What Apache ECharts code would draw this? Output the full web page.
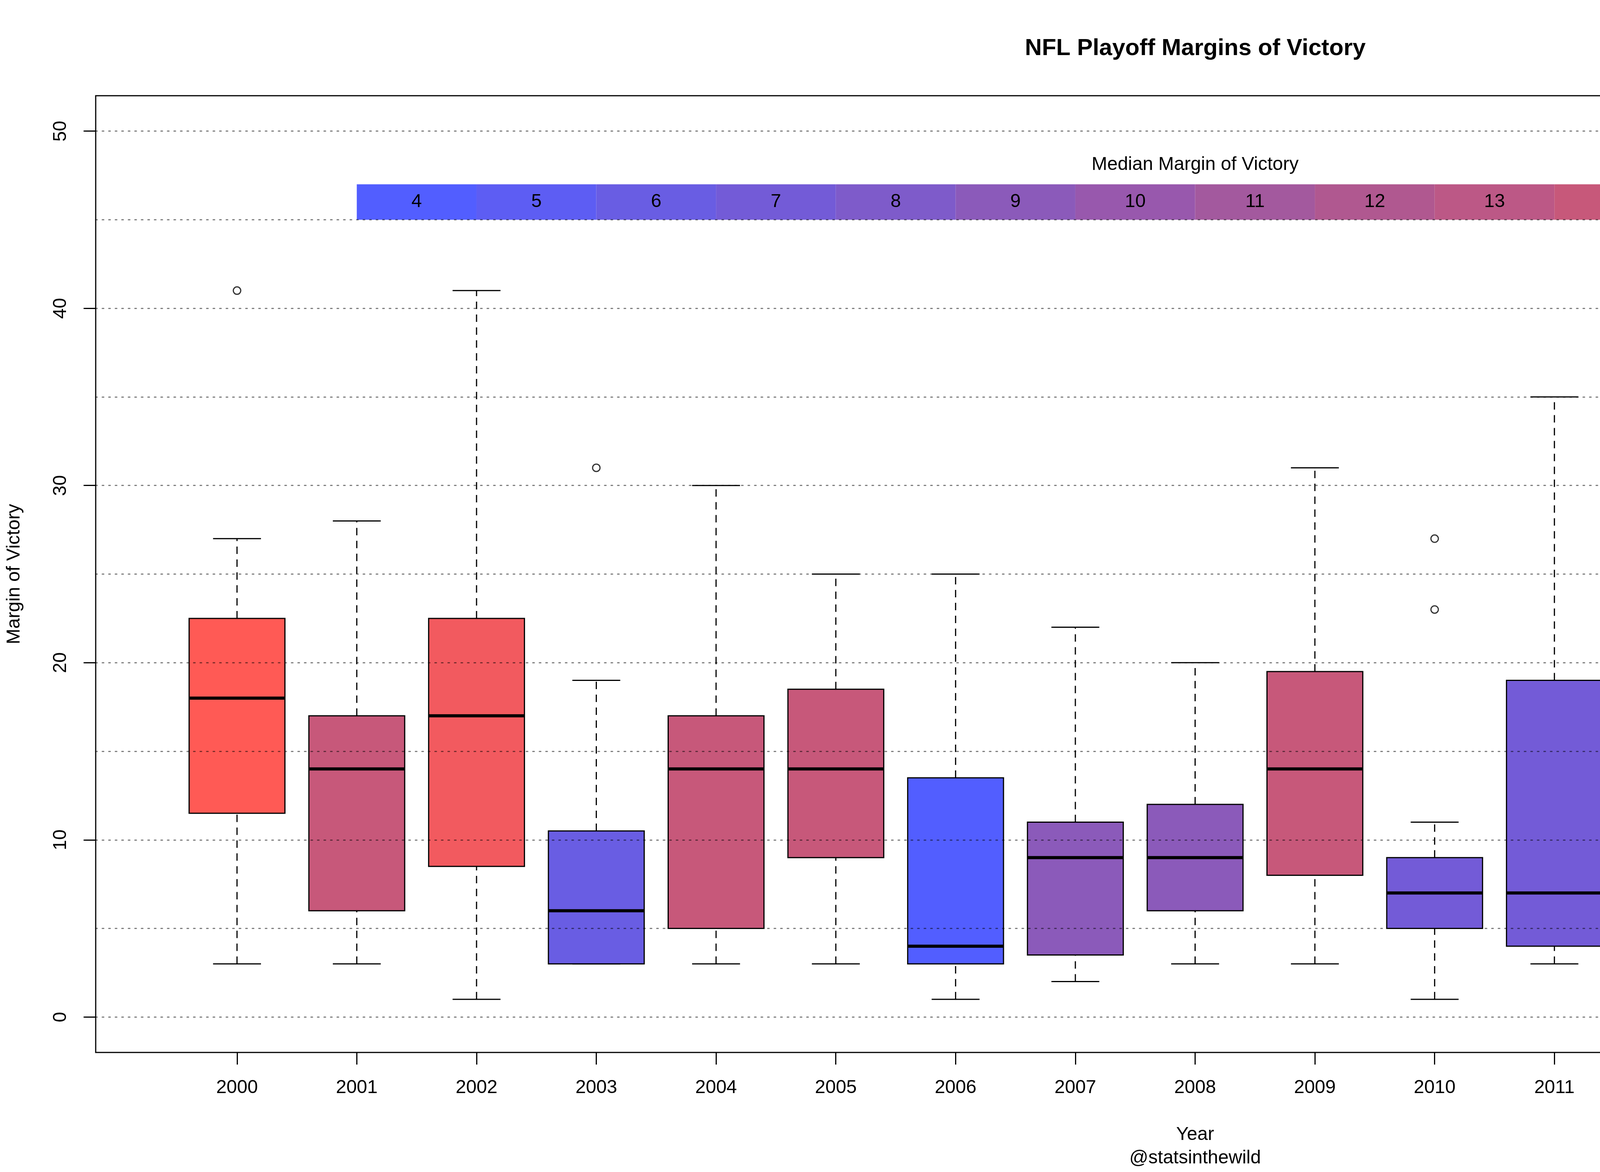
<!DOCTYPE html>
<html>
<head>
<meta charset="utf-8">
<script src="https://cdn.jsdelivr.net/npm/echarts@6/dist/echarts.min.js"></script>
<style>
html,body{margin:0;padding:0;background:#ffffff;}
#chart{width:6000px;height:3000px;}
</style>
</head>
<body>
<div id="chart"></div>
<script>
// ---- data ----
const years = ['2000','2001','2002','2003','2004','2005','2006','2007','2008','2009','2010','2011','2012','2013','2014','2015','2016'];
const lowerWhisker = [3, 3, 1, 3, 3, 3, 1, 2, 3, 3, 1, 3, 2, 1, 4, 1, 13];
const q1Values     = [11.5, 6, 8.5, 3, 5, 9, 3, 3.5, 6, 8, 5, 4, 3.5, 4.5, 4.5, 4, 16];
const medianValues = [18, 14, 17, 6, 14, 14, 4, 9, 9, 14, 7, 7, 10, 8, 11, 7, 18];
const q3Values     = [22.5, 17, 22.5, 10.5, 17, 18.5, 13.5, 11, 12, 19.5, 9, 19, 14, 15, 13.5, 15.5, 20];
const upperWhisker = [27, 28, 41, 19, 30, 25, 25, 22, 20, 31, 11, 35, 15, 21, 16, 30, 25];
const outlierYears  = ['2000','2003','2010','2010','2013','2014','2015'];
const outlierValues = [41, 31, 27, 23, 35, 38, 34];
const legendValues = [4, 5, 6, 7, 8, 9, 10, 11, 12, 13, 14, 15, 16, 17, 18];
const legendColors = ['#525EFF','#5D5DF3','#695DE3','#735BD7','#7E5BCA','#8B5ABA','#9858AD','#A3599E','#B05890','#BC5886','#C7587A','#D85870','#E65A68','#F25A5F','#FF5A55'];
const yTickValues = [0, 10, 20, 30, 40, 50];
const gridValues = [0, 5, 10, 15, 20, 25, 30, 35, 40, 45, 50];
const legendTitle = 'Median Margin of Victory';

// ---- layout / style constants ----
const FONT = '"Liberation Sans", Arial, Helvetica, sans-serif';
const BOX_HALF = 0.4, CAP_HALF = 0.2;
const LEGEND_START = 2, LEGEND_BOTTOM = 45, LEGEND_TOP = 47, LEGEND_TITLE_Y = 48.1, LEGEND_TITLE_X = 9;

const xPositions = years.map((y, i) => i + 1);
const boxData = years.map((y, i) => [i + 1, lowerWhisker[i], q1Values[i], medianValues[i], q3Values[i], upperWhisker[i]]);
const boxColors = medianValues.map(m => legendColors[legendValues.indexOf(m)]);
const outlierData = outlierYears.map((y, i) => [years.indexOf(y) + 1, outlierValues[i]]);
const legendData = legendValues.map((v, i) => [LEGEND_START + i, LEGEND_BOTTOM]);

const chart = echarts.init(document.getElementById('chart'), null, {renderer: 'canvas'});

function renderBox(params, api) {
  const x = api.value(0), lo = api.value(1), q1 = api.value(2), med = api.value(3), q3 = api.value(4), hi = api.value(5);
  const c = (a, b) => api.coord([a, b]);
  const color = boxColors[params.dataIndex];
  const pTL = c(x - BOX_HALF, q3), pBR = c(x + BOX_HALF, q1);
  const dashStyle = {stroke: '#000', lineWidth: 3, lineDash: [19, 14], fill: null};
  const solid = {stroke: '#000', lineWidth: 3, fill: null};
  const line = (a, b, style) => ({type: 'line', shape: {x1: a[0], y1: a[1], x2: b[0], y2: b[1]}, style: style});
  const children = [];
  if (hi > q3) children.push(line(c(x, q3), c(x, hi), dashStyle));
  if (lo < q1) children.push(line(c(x, lo), c(x, q1), dashStyle));
  children.push(line(c(x - CAP_HALF, hi), c(x + CAP_HALF, hi), solid));
  children.push(line(c(x - CAP_HALF, lo), c(x + CAP_HALF, lo), solid));
  children.push({type: 'rect', shape: {x: pTL[0], y: pTL[1], width: pBR[0] - pTL[0], height: pBR[1] - pTL[1]},
    style: {fill: color, stroke: '#000', lineWidth: 3}});
  children.push(line(c(x - BOX_HALF, med), c(x + BOX_HALF, med), {stroke: '#000', lineWidth: 8, fill: null}));
  return {type: 'group', children: children};
}

function renderLegend(params, api) {
  const i = params.dataIndex;
  const x0 = api.value(0);
  const a = api.coord([x0, LEGEND_TOP]);
  const b = api.coord([x0 + 1, LEGEND_BOTTOM]);
  const mid = api.coord([x0 + 0.5, (LEGEND_TOP + LEGEND_BOTTOM) / 2]);
  const children = [
    {type: 'rect', shape: {x: a[0], y: a[1], width: b[0] - a[0], height: b[1] - a[1]}, style: {fill: legendColors[i]}},
    {type: 'text', x: mid[0], y: mid[1], style: {text: String(legendValues[i]), fill: '#000', font: '48px ' + FONT, textAlign: 'center', textVerticalAlign: 'middle'}}
  ];
  if (i === 0) {
    const t = api.coord([LEGEND_TITLE_X, LEGEND_TITLE_Y]);
    children.push({type: 'text', x: t[0], y: t[1], style: {text: legendTitle, fill: '#000', font: '48px ' + FONT, textAlign: 'center', textVerticalAlign: 'middle'}});
  }
  return {type: 'group', children: children};
}

const option = {
  animation: false,
  backgroundColor: '#ffffff',
  title: {
    text: 'NFL Playoff Margins of Victory',
    left: 3060, top: 94, padding: 0, textAlign: 'center',
    textStyle: {fontSize: 60, fontWeight: 'bold', color: '#000', fontFamily: FONT}
  },
  grid: {left: 245, right: 126, top: 245, bottom: 306, show: true, borderColor: '#000', borderWidth: 3, backgroundColor: 'transparent'},
  xAxis: {
    type: 'value', min: -0.18, max: 18.18, position: 'bottom',
    splitLine: {show: false},
    axisLine: {show: false, onZero: false},
    axisTick: {show: true, customValues: xPositions, length: 31, lineStyle: {color: '#000', width: 3}},
    axisLabel: {show: true, customValues: xPositions, formatter: v => years[Math.round(v) - 1], margin: 67, fontSize: 48, color: '#000', fontFamily: FONT},
    name: 'Year\n@statsinthewild', nameLocation: 'middle', nameGap: 181,
    nameTextStyle: {fontSize: 48, lineHeight: 60, color: '#000', fontFamily: FONT}
  },
  yAxis: {
    type: 'value', min: -2, max: 52, position: 'left',
    splitLine: {show: false},
    axisLine: {show: false, onZero: false},
    axisTick: {show: true, customValues: yTickValues, length: 31, lineStyle: {color: '#000', width: 3}},
    axisLabel: {show: true, customValues: yTickValues, rotate: 90, margin: 65, fontSize: 48, color: '#000', fontFamily: FONT},
    name: 'Margin of Victory', nameLocation: 'middle', nameGap: 184, nameRotate: 90,
    nameTextStyle: {fontSize: 48, color: '#000', fontFamily: FONT}
  },
  series: [
    {
      type: 'custom', name: 'boxes', renderItem: renderBox, data: boxData, z: 2,
      encode: {x: 0, y: [1, 2, 3, 4, 5]}, silent: true
    },
    {
      type: 'custom', name: 'legend', renderItem: renderLegend, data: legendData, z: 2,
      encode: {x: 0, y: 1}, silent: true
    },
    {
      type: 'scatter', name: 'outliers', data: outlierData, symbol: 'circle', symbolSize: 19, z: 3, silent: true,
      itemStyle: {color: 'rgba(0,0,0,0)', borderColor: '#000', borderWidth: 3},
      markLine: {
        silent: true, symbol: ['none', 'none'], label: {show: false}, z: 5,
        lineStyle: {color: 'rgba(0,0,0,0.5)', width: 3, type: [4, 12.7], cap: 'round'},
        emphasis: {disabled: true},
        data: gridValues.map(v => ({yAxis: v}))
      }
    }
  ]
};
chart.setOption(option);
</script>
</body>
</html>
